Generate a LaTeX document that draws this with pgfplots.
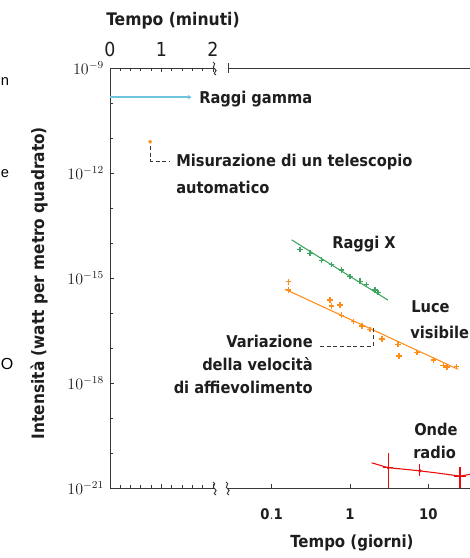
\documentclass[border=0pt]{standalone}
\usepackage{fontspec}
\setmainfont{DejaVu Sans Condensed}
\newfontfamily\strayfont{Liberation Sans}
\usepackage{pgfplots}
\pgfplotsset{compat=1.18}

\definecolor{gammac}{RGB}{110,195,225}
\definecolor{xrayc}{RGB}{60,165,95}
\definecolor{visc}{RGB}{255,140,25}
\definecolor{radioc}{RGB}{235,10,10}
\definecolor{axc}{RGB}{55,55,55}
\definecolor{txtc}{RGB}{30,30,30}

\begin{document}
\begin{tikzpicture}
\useasboundingbox (0,0) rectangle (352.5pt,-418.5pt);
\clip (0,0) rectangle (352.5pt,-418.5pt);

% left panel: minutes
\begin{axis}[scale only axis, anchor=south west, at={(82.5pt,-366pt)},
  width=78.4pt, height=315pt,
  xmin=0, xmax=2.03,
  ymode=log, ymin=1e-21, ymax=1e-9,
  tick align=inside,
  axis line style={axc, line width=0.7pt},
  tick style={axc, line width=0.6pt},
  major tick length=3pt, minor tick length=2.5pt,
  axis x line*=box, axis y line*=left,
  xtick={0,1,2}, xticklabels={0,1,2},
  minor xtick={0.2,0.4,0.6,0.8,1.2,1.4,1.6,1.8},
  xtick pos=both, xticklabel pos=upper,
  xticklabel style={font=\fontsize{14.5}{14.5}\selectfont, text=txtc, yshift=5pt},
  ytick={1e-21,1e-18,1e-15,1e-12,1e-9},
  minor ytick={1e-20,1e-19,1e-17,1e-16,1e-14,1e-13,1e-11,1e-10},
  ytick pos=left, yticklabel pos=left,
  yticklabel style={font=\fontsize{12}{12}\selectfont, text=txtc, xshift=-1pt},
]
% gamma rays
\addplot[gammac, line width=0.9pt] coordinates {(0,1.48e-10) (1.54,1.48e-10)};
\addplot[gammac, only marks, mark=triangle*, mark size=1.3pt, mark options={rotate=-90}]
  coordinates {(1.54,1.48e-10)};
% automatic telescope
\addplot[visc, only marks, mark=*, mark size=1.2pt] coordinates {(0.78,7.8e-12)};
\end{axis}

% right panel: days
\begin{axis}[scale only axis, anchor=south west, at={(171pt,-366pt)},
  width=181.5pt, height=315pt,
  xmode=log, xmin=0.0277, xmax=34.1,
  ymode=log, ymin=1e-21, ymax=1e-9,
  tick align=inside,
  axis line style={axc, line width=0.7pt},
  tick style={axc, line width=0.6pt},
  major tick length=3pt,
  axis x line*=box, axis y line=none,
  xtick={0.1,1,10}, xticklabels={$\mathbf{0.1}$,$\mathbf{1}$,$\mathbf{10}$}, xminorticks=false,
  xtick pos=lower, xticklabel pos=lower,
  xticklabel style={font=\fontsize{11}{11}\selectfont, text=txtc, yshift=-12pt},
  ytick=\empty, yminorticks=false,
]
% X rays
\addplot[xrayc, line width=0.8pt] coordinates {(0.180,1.23e-14) (3.055,2.34e-16)};
\addplot[xrayc, only marks, mark=+, mark size=2pt, line width=0.9pt] coordinates {
  (0.2296,6.61e-15) (0.3083,5.13e-15) (0.4355,3.24e-15) (0.5834,2.45e-15)
  (0.7834,1.70e-15) (1.0,1.10e-15) (1.343,8.13e-16) (1.633,6.61e-16)
  (2.084,4.57e-16) (2.280,3.80e-16)};
% visible light
\addplot[visc, line width=0.8pt] coordinates {(0.148,4.79e-16) (24.15,2.45e-18)};
\addplot[visc, only marks, mark=+, mark size=2pt, line width=0.9pt] coordinates {
  (0.163,7.76e-16) (0.163,4.57e-16) (0.556,2.34e-16) (0.583,1.58e-16)
  (0.745,1.70e-16) (0.783,8.71e-17) (1.102,5.62e-17) (1.422,4.27e-17)
  (1.799,3.39e-17) (2.564,1.82e-17) (4.102,1.29e-17) (4.227,5.89e-18)
  (7.178,7.41e-18) (11.59,4.57e-18) (15.49,3.24e-18) (17.38,2.88e-18)
  (22.91,2.95e-18)};
% radio
\addplot[radioc, line width=0.8pt] coordinates {
  (1.892,5.25e-21) (3.083,3.80e-21) (4.75,3.47e-21) (7.83,3.09e-21)
  (12.9,2.69e-21) (25.4,2.19e-21) (36.1,2.51e-21)};
\addplot[radioc, only marks, mark=*, mark size=1pt] coordinates {
  (3.083,3.80e-21) (7.83,3.09e-21) (25.4,2.19e-21)};
\addplot[radioc, line width=0.8pt] coordinates {(3.083,1.0e-20) (3.083,1.0e-21)};
\addplot[radioc, line width=0.8pt] coordinates {(2.64,3.80e-21) (3.54,3.80e-21)};
\addplot[radioc, line width=0.8pt] coordinates {(7.83,4.9e-21) (7.83,2.19e-21)};
\addplot[radioc, line width=0.8pt] coordinates {(25.4,3.98e-21) (25.4,1.0e-21)};
\addplot[radioc, line width=0.8pt] coordinates {(21.5,2.19e-21) (30.0,2.19e-21)};
\end{axis}

% annotations, in pixel units of the reference
\begin{scope}[x=0.75pt, y=-0.75pt, every node/.style={inner sep=0pt, text=txtc,
    font=\fontsize{12.2}{14}\selectfont\bfseries}]
  % axis breaks
  \draw[axc, line width=0.7pt] (213,62) .. controls (218,64) and (210,67) .. (215,69)
     .. controls (219,71) and (211,73) .. (216,75);
  \draw[axc, line width=0.7pt] (213,482) .. controls (218,484) and (210,487) .. (215,489)
     .. controls (219,491) and (211,493) .. (216,495);
  \draw[axc, line width=0.7pt] (228,63) -- (228,73);
  \draw[axc, line width=0.7pt] (226,482) .. controls (231,484) and (223,487) .. (228,489)
     .. controls (232,491) and (224,493) .. (229,495);

  \node[font=\fontsize{13}{15}\selectfont\bfseries] at (173,21) {Tempo (minuti)};
  \node[font=\fontsize{12.5}{15}\selectfont\bfseries] at (352,543) {Tempo (giorni)};
  \node[rotate=90, font=\fontsize{12.8}{15}\selectfont\bfseries] at (39,283)
    {Intensità (watt per metro quadrato)};

  \node[anchor=west] at (199,99) {Raggi gamma};
  \draw[axc, densely dashed, line width=0.5pt] (150.5,146) -- (150.5,161) -- (170,161);
  \node[anchor=west] at (176,162) {Misurazione di un telescopio};
  \node[anchor=west] at (176,187) {automatico};

  \node[anchor=west] at (332,244) {Raggi X};
  \node[anchor=west] at (411,307) {Luce};
  \node[anchor=west] at (410,332) {visibile};

  \node[anchor=east] at (313,341) {Variazione};
  \node[anchor=east] at (313,364) {della velocità};
  \node[anchor=east] at (313,387) {di affievolimento};
  \draw[axc, densely dashed, line width=0.5pt] (320,346) -- (373,346) -- (373,327);

  \node[anchor=west] at (414,429) {Onde};
  \node[anchor=west] at (413,452) {radio};

  % fragments of neighbouring text at the left frame
  \node[anchor=west, font=\strayfont\fontsize{11}{11}\selectfont, text=black] at (0.5,82) {n};
  \node[anchor=west, font=\strayfont\fontsize{11}{11}\selectfont, text=black] at (0.5,174) {e};
  \node[anchor=west, font=\strayfont\fontsize{12}{12}\selectfont, text=black] at (0.5,364) {O};
\end{scope}
\end{tikzpicture}
\end{document}
